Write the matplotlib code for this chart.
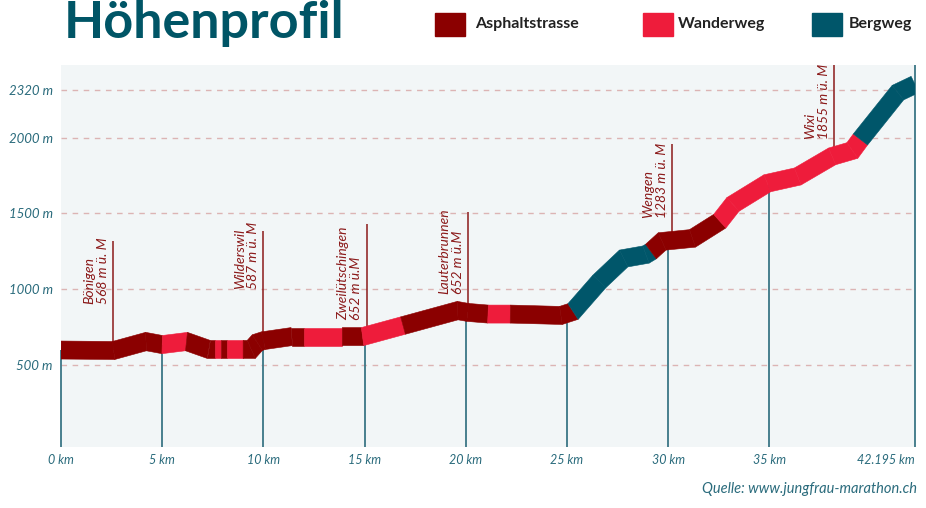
import matplotlib.pyplot as plt
from matplotlib.patches import Rectangle, Polygon
import numpy as np

plt.rcParams['font.family'] = ['Lato', 'DejaVu Sans']

# Mittellinie des Höhenbandes
km = [0.0, 2.6, 4.2, 5.0, 6.2, 7.3, 7.6, 7.9, 8.2, 9.0, 9.4, 9.7, 10.0, 11.4,
      12.0, 13.9, 14.9, 16.9, 19.6, 20.1, 21.1, 22.2, 24.7, 25.3, 26.6, 27.8,
      28.9, 29.15, 29.7, 31.2, 32.55, 33.2, 34.9, 36.4, 38.1, 39.1, 39.5,
      41.35, 42.195]
hoehe = [596, 593, 652, 632, 652, 600, 600, 600, 600, 600, 600, 645, 658, 685,
         685, 685, 685, 758, 857, 845, 834, 834, 825, 851, 1050, 1202,
         1228, 1248, 1315, 1335, 1449, 1560, 1700, 1745, 1878, 1917, 1990,
         2300, 2354]
# Belag je Abschnitt: A = Asphaltstrasse, W = Wanderweg, B = Bergweg
belag = list("AAAWAAWAWAAAAAWAWAAAWAABBBBAAAWWWWWWBB")

orte = ["Bönigen\n568 m ü. M", "Wilderswil\n587 m ü. M",
        "Zweilütschingen\n652 m ü.M", "Lauterbrunnen\n652 m ü.M",
        "Wengen\n1283 m ü. M", "Wixi\n1855 m ü. M"]
orte_km = [2.57, 10.0, 15.1, 20.1, 30.2, 38.2]

xticks = [0, 5, 10, 15, 20, 25, 30, 35, 42.195]
xlabels = ["0 km", "5 km", "10 km", "15 km", "20 km", "25 km", "30 km", "35 km", "42.195 km"]
yticks = [500, 1000, 1500, 2000, 2320]
ylabels = ["500 m", "1000 m", "1500 m", "2000 m", "2320 m"]

legende = ["Asphaltstrasse", "Wanderweg", "Bergweg"]
farben = {"A": "#8b0000", "W": "#ee1c3b", "B": "#00566a"}

teal = "#2a6b7c"
rot = "#8b1a1a"

fig = plt.figure(figsize=(9.26, 5.08), dpi=100)
ax = fig.add_axes([61 / 926, 1 - 447 / 508, 854 / 926, 382 / 508])
ax.set_facecolor("#f2f6f7")
ax.set_xlim(0, 42.195)
ax.set_ylim(-46, 2483)
for s in ax.spines.values():
    s.set_visible(False)

for y in yticks:
    ax.axhline(y, color="#dcb4b4", lw=1, dashes=(4, 4), zorder=1)

# Kilometerlinien
for x in xticks:
    top = np.interp(x, km, hoehe) if x < 42 else 2483
    ax.vlines(x, -46, top, color="#3b7686", lw=1.3, zorder=2, clip_on=False)

# Band: Abschnitte als Vierecke mit Gehrung (in Pixeln gerechnet)
halb = 9.0
p = ax.transData.transform(np.column_stack([km, hoehe]))
d = np.diff(p, axis=0)
d = d / np.linalg.norm(d, axis=1)[:, None]
nseg = np.column_stack([-d[:, 1], d[:, 0]])
nv = np.zeros_like(p)
nv[0] = nseg[0] * halb
nv[-1] = nseg[-1] * halb
for k in range(1, len(p) - 1):
    m = nseg[k - 1] + nseg[k]
    m = m / np.linalg.norm(m)
    nv[k] = m * halb / np.dot(m, nseg[k])
oben = ax.transData.inverted().transform(p + nv)
unten = ax.transData.inverted().transform(p - nv)
for k, b in enumerate(belag):
    quad = [oben[k], oben[k + 1], unten[k + 1], unten[k]]
    ax.add_patch(Polygon(quad, closed=True, facecolor=farben[b],
                         edgecolor=farben[b], lw=0.4, zorder=3))

# Ortsmarken
linie_oben = [1321, 1381, 1433, 1507, 1957, 2480]
text_unten = [900, 997, 798, 964, 1473, 1990]
for name, x, top, tb in zip(orte, orte_km, linie_oben, text_unten):
    ax.vlines(x, np.interp(x, km, hoehe), top, color=rot, lw=1.1, zorder=2)
    ax.annotate(name, xy=(x, tb), xytext=(-3, 0), textcoords="offset points",
                rotation=90, ha="right", va="bottom", multialignment="left",
                fontsize=10, style="italic", color=rot, linespacing=1.15)

ax.set_xticks(xticks)
ax.set_xticklabels(xlabels, style="italic", color=teal, fontsize=9)
ax.get_xticklabels()[-1].set_ha("right")
ax.set_yticks(yticks)
ax.set_yticklabels(ylabels, style="italic", color=teal, fontsize=9.5)
ax.tick_params(length=0)
ax.tick_params(axis="x", pad=5)
ax.tick_params(axis="y", pad=6)

fig.text(64 / 926, 1 - 38 / 508, "Höhenprofil", fontsize=37.5, fontweight="bold",
         color="#005566", va="baseline")

leg_box = [435, 643, 812]
leg_txt = [475, 678, 849]
for name, c, bx, tx in zip(legende, ["A", "W", "B"], leg_box, leg_txt):
    fig.add_artist(Rectangle((bx / 926, 1 - 36 / 508), 30 / 926, 23 / 508,
                             transform=fig.transFigure, color=farben[c]))
    fig.text(tx / 926, 1 - 24 / 508, name, fontsize=11.5,
             fontweight="bold", color="#222222", va="center")

fig.text(917 / 926, 1 - 489 / 508, "Quelle: www.jungfrau-marathon.ch",
         style="italic", color=teal, fontsize=10.5, ha="right", va="center")

fig.savefig("out.png", dpi=100)
